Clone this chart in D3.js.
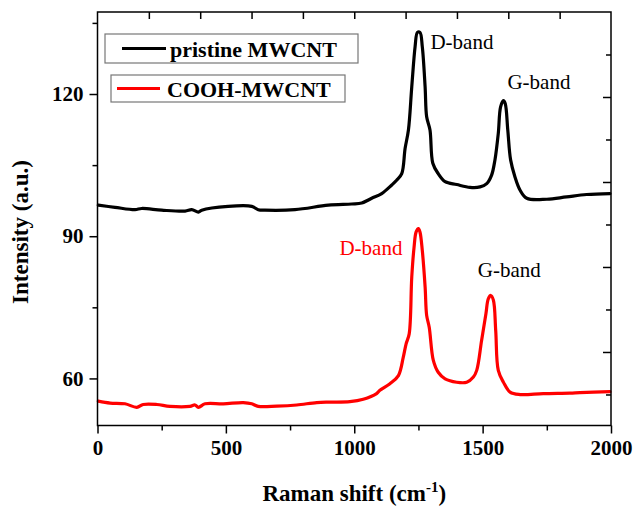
<!DOCTYPE html>
<html>
<head>
<meta charset="utf-8">
<script src="https://cdn.jsdelivr.net/npm/d3@7"></script>
<style>
  html, body { margin: 0; padding: 0; background: #fff; }
  svg { display: block; }
  text { font-family: "Liberation Serif", "Times New Roman", serif; }
</style>
</head>
<body>
<svg id="chart" width="634" height="507"></svg>
<script>
// Raman spectra of pristine and acid-treated multi-walled carbon nanotubes
const pristineShift = [3, 68, 146, 172, 250, 341, 367, 393, 406, 509, 601, 626, 652, 769, 899, 990, 1029, 1068, 1107, 1146, 1165, 1185, 1198, 1211, 1224, 1237, 1246, 1256, 1265, 1276, 1282, 1295, 1306, 1327, 1354, 1399, 1451, 1490, 1516, 1535, 1548, 1561, 1570, 1581, 1588, 1598, 1609, 1626, 1646, 1672, 1750, 1827, 1905, 1996];
const pristineIntensity = [96.55, 96.1, 95.6, 95.85, 95.5, 95.3, 95.6, 95.1, 95.5, 96.3, 96.3, 95.6, 95.5, 95.6, 96.55, 96.8, 97.0, 98.0, 99.0, 100.8, 101.8, 103.2, 108.5, 112.4, 121.5, 130.0, 133.0, 133.0, 130.0, 121.5, 115.2, 112.4, 105.4, 103.2, 101.5, 100.9, 100.3, 100.4, 101.1, 102.9, 106.1, 111.7, 117.3, 118.6, 118.0, 112.4, 106.1, 102.5, 99.7, 98.0, 97.8, 98.3, 98.8, 99.0];

const coohShift = [3, 49, 107, 153, 178, 231, 282, 360, 380, 393, 419, 490, 568, 601, 626, 698, 776, 854, 906, 983, 1035, 1087, 1100, 1139, 1172, 1191, 1202, 1214, 1224, 1233, 1241, 1250, 1256, 1265, 1276, 1282, 1292, 1308, 1327, 1354, 1399, 1438, 1464, 1477, 1496, 1513, 1522, 1532, 1542, 1551, 1561, 1581, 1607, 1646, 1736, 1840, 1879, 1996];
const coohIntensity = [55.2, 54.8, 54.65, 53.9, 54.5, 54.5, 54.1, 54.1, 54.4, 53.9, 54.65, 54.65, 54.9, 54.65, 54.1, 54.15, 54.4, 54.9, 55.0, 55.1, 55.6, 56.8, 57.5, 58.9, 60.6, 64.5, 67.3, 69.4, 81.4, 87.7, 90.9, 91.6, 90.9, 87.0, 79.3, 73.3, 70.8, 63.8, 61.3, 59.9, 59.2, 59.2, 60.3, 61.7, 68.0, 73.7, 76.8, 77.5, 76.5, 70.1, 61.7, 59.2, 57.1, 56.6, 56.8, 56.9, 57.0, 57.2];

const seriesNames = ["pristine MWCNT", "COOH-MWCNT"];
const seriesColors = ["#000000", "#ff0000"];

const xTickValues = [0, 500, 1000, 1500, 2000];
const xMinorTicks = [250, 750, 1250, 1750];
const xTopTicks = [200, 400, 600, 800, 1000, 1200, 1400, 1600, 1800];
const yTickValues = [60, 90, 120];
const yMinorTicks = [75, 105, 135];
const rightMajorTicks = [20, 40, 60, 80];
const rightMinorTicks = [10, 30, 50, 70, 90];

const bands = [
  { text: "D-band", shift: 1250, intensity: 133.0, color: "#000", dx: 12, dy: 17 },
  { text: "G-band", shift: 1581, intensity: 118.6, color: "#000", dx: 4, dy: -12 },
  { text: "D-band", shift: 1250, intensity: 91.6, color: "#ff0000", dx: -79, dy: 26 },
  { text: "G-band", shift: 1532, intensity: 77.5, color: "#000", dx: -13, dy: -18 }
];

const svg = d3.select("#chart");
const plotLeft = 97.5, plotRight = 611, plotTop = 12, plotBottom = 425.5;

const x = d3.scaleLinear().domain([0, 2000]).range([plotLeft, plotRight]);
const y = d3.scaleLinear().domain([50.07, 137.3]).range([plotBottom, plotTop]);
const yRight = d3.scaleLinear().domain([2.7, 100]).range([plotBottom, plotTop]);

// spectra
const line = d3.line().x(d => x(d[0])).y(d => y(d[1])).curve(d3.curveCatmullRom.alpha(0.5));
const series = [
  d3.zip(pristineShift, pristineIntensity),
  d3.zip(coohShift, coohIntensity)
];
svg.append("g").selectAll("path").data(series).join("path")
  .attr("d", line)
  .attr("fill", "none")
  .attr("stroke", (d, i) => seriesColors[i])
  .attr("stroke-width", 3.2)
  .attr("stroke-linejoin", "round")
  .attr("stroke-linecap", "round");

// axes
const tickFont = g => g.selectAll("text")
  .attr("font-family", "Liberation Serif, serif")
  .attr("font-weight", "bold")
  .attr("font-size", 21)
  .attr("fill", "#000");

svg.append("g").attr("transform", `translate(0,${plotBottom})`)
  .call(d3.axisBottom(x).tickValues(xTickValues).tickSize(8).tickPadding(7).tickFormat(d3.format("d")))
  .call(tickFont);
svg.append("g").attr("transform", `translate(0,${plotBottom})`)
  .call(d3.axisBottom(x).tickValues(xMinorTicks).tickSize(5).tickFormat(""));

svg.append("g").attr("transform", `translate(0,${plotTop})`)
  .call(d3.axisBottom(x).tickValues(xTopTicks).tickSize(7).tickFormat(""));

svg.append("g").attr("transform", `translate(${plotLeft},0)`)
  .call(d3.axisLeft(y).tickValues(yTickValues).tickSize(8).tickPadding(6))
  .call(tickFont);
svg.append("g").attr("transform", `translate(${plotLeft},0)`)
  .call(d3.axisLeft(y).tickValues(yMinorTicks).tickSize(5).tickFormat(""));

svg.append("g").attr("transform", `translate(${plotRight},0)`)
  .call(d3.axisLeft(yRight).tickValues(rightMajorTicks).tickSize(8).tickFormat(""));
svg.append("g").attr("transform", `translate(${plotRight},0)`)
  .call(d3.axisLeft(yRight).tickValues(rightMinorTicks).tickSize(5).tickFormat(""));

svg.selectAll(".domain").remove();
svg.selectAll(".tick line").attr("stroke", "#000").attr("stroke-width", 1.5);

// plot frame
svg.append("rect")
  .attr("x", plotLeft).attr("y", plotTop)
  .attr("width", plotRight - plotLeft).attr("height", plotBottom - plotTop)
  .attr("fill", "none").attr("stroke", "#000").attr("stroke-width", 1.5);

// axis titles
const xTitle = svg.append("text")
  .attr("x", (plotLeft + plotRight) / 2).attr("y", 501)
  .attr("text-anchor", "middle")
  .attr("font-weight", "bold").attr("font-size", 23);
xTitle.append("tspan").text("Raman shift (cm");
xTitle.append("tspan").attr("dy", -9).attr("font-size", 15).text("-1");
xTitle.append("tspan").attr("dy", 9).text(")");

svg.append("text")
  .attr("transform", "translate(28,232) rotate(-90)")
  .attr("text-anchor", "middle")
  .attr("font-weight", "bold").attr("font-size", 23)
  .text("Intensity (a.u.)");

// band labels
svg.append("g").selectAll("text").data(bands).join("text")
  .attr("x", d => x(d.shift) + d.dx)
  .attr("y", d => y(d.intensity) + d.dy)
  .attr("fill", d => d.color)
  .attr("font-size", 21)
  .text(d => d.text);

// legend
const legendBoxes = [
  { x: 105, y: 34, w: 253, h: 29, lx1: 122, lx2: 166, tx: 170 },
  { x: 111, y: 75, w: 234, h: 27, lx1: 117, lx2: 160, tx: 167 }
];
const legend = svg.append("g").selectAll("g").data(legendBoxes).join("g");
legend.append("rect")
  .attr("x", d => d.x).attr("y", d => d.y)
  .attr("width", d => d.w).attr("height", d => d.h)
  .attr("fill", "#fff").attr("stroke", "#777").attr("stroke-width", 1.2);
legend.append("line")
  .attr("x1", d => d.lx1).attr("x2", d => d.lx2)
  .attr("y1", d => d.y + d.h / 2).attr("y2", d => d.y + d.h / 2)
  .attr("stroke", (d, i) => seriesColors[i]).attr("stroke-width", 3);
legend.append("text")
  .attr("x", d => d.tx).attr("y", d => d.y + d.h / 2 + 8)
  .attr("font-weight", "bold").attr("font-size", 22)
  .text((d, i) => seriesNames[i]);
</script>
</body>
</html>
